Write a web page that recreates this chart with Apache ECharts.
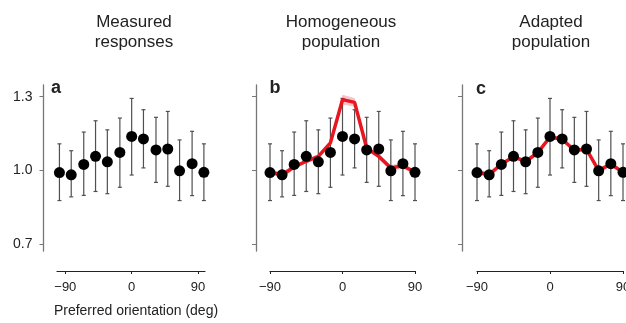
<!DOCTYPE html>
<html>
<head>
<meta charset="utf-8">
<script src="https://cdn.jsdelivr.net/npm/echarts@6/dist/echarts.min.js"></script>
<style>
html, body { margin: 0; padding: 0; background: #fff; }
#main { width: 626px; height: 323px; }
</style>
</head>
<body>
<div id="main"></div>
<script>
// orientations (deg)
var orientMeasured = [-98, -82, -65, -49, -33, -16, 0, 16, 33, 49, 65, 82, 98];
var orient = [-90, -75, -60, -45, -30, -15, 0, 15, 30, 45, 60, 75, 90];

// measured responses, mean and error bar ends
var meanResp = [0.991, 0.982, 1.024, 1.057, 1.035, 1.073, 1.138, 1.128, 1.083, 1.087, 0.998, 1.027, 0.992];
var errLow = [0.877, 0.892, 0.898, 0.914, 0.905, 0.931, 0.981, 1.010, 0.951, 0.935, 0.877, 0.897, 0.877];
var errHigh = [1.108, 1.080, 1.156, 1.202, 1.165, 1.213, 1.293, 1.247, 1.216, 1.240, 1.124, 1.159, 1.108];

// model predictions + half width of the shaded band
var homoFit = [0.992, 0.982, 1.014, 1.037, 1.057, 1.112, 1.288, 1.277, 1.091, 1.057, 1.010, 1.019, 0.992];
var homoSpread = [0.008, 0.012, 0.009, 0.008, 0.008, 0.010, 0.020, 0.018, 0.010, 0.009, 0.012, 0.012, 0.008];
var adaptFit = [0.992, 0.983, 1.025, 1.056, 1.036, 1.072, 1.136, 1.127, 1.082, 1.086, 0.999, 1.026, 0.992];
var adaptSpread = [0.008, 0.012, 0.009, 0.008, 0.009, 0.008, 0.008, 0.008, 0.008, 0.008, 0.010, 0.009, 0.008];

var xTicks = [-90, 0, 90];
var yTicks = [0.7, 1.0, 1.3];

var FONT = '"Liberation Sans", Arial, Helvetica, sans-serif';
var TXT = '#222';

var myChart = echarts.init(document.getElementById('main'), null, { renderer: 'canvas' });

function minusFmt(v) {
  return v < 0 ? '\u2212' + (-v) : String(v);
}

function makeX(idx, min, max) {
  return {
    type: 'value', gridIndex: idx, min: min, max: max, offset: 20,
    axisLine: { show: true, onZero: false, lineStyle: { color: '#222', width: 1.2 } },
    axisTick: { show: true, length: 3, customValues: xTicks, lineStyle: { color: '#222' } },
    axisLabel: { customValues: xTicks, formatter: minusFmt, fontFamily: FONT, fontSize: 13, color: TXT, margin: 10 },
    splitLine: { show: false }
  };
}

function makeY(idx, offset, showLabel) {
  return {
    type: 'value', gridIndex: idx, min: 0.6715, max: 1.3477, offset: offset,
    axisLine: { show: true, onZero: false, lineStyle: { color: '#777', width: 1.3 } },
    axisTick: { show: true, length: 4, customValues: yTicks, lineStyle: { color: '#777' } },
    axisLabel: {
      show: showLabel, customValues: yTicks,
      formatter: function (v) { return v.toFixed(1); },
      fontFamily: FONT, fontSize: 14, color: TXT, margin: 11
    },
    splitLine: { show: false }
  };
}

function errorBars(idx, xs) {
  var data = xs.map(function (x, i) { return [x, errLow[i], errHigh[i]]; });
  return {
    type: 'custom', xAxisIndex: idx, yAxisIndex: idx, data: data, z: 2, silent: true,
    encode: { x: 0, y: [1, 2] },
    renderItem: function (params, api) {
      var x = api.value(0);
      var lo = api.coord([x, api.value(1)]);
      var hi = api.coord([x, api.value(2)]);
      var st = { stroke: '#505050', lineWidth: 1.2 };
      var c = 2;
      return {
        type: 'group',
        children: [
          { type: 'line', shape: { x1: lo[0], y1: lo[1], x2: hi[0], y2: hi[1] }, style: st },
          { type: 'line', shape: { x1: hi[0] - c, y1: hi[1], x2: hi[0] + c, y2: hi[1] }, style: st },
          { type: 'line', shape: { x1: lo[0] - c, y1: lo[1], x2: lo[0] + c, y2: lo[1] }, style: st }
        ]
      };
    }
  };
}

function band(idx, xs, fit, spread) {
  var data = xs.map(function (x, i) { return [x, fit[i] - spread[i], fit[i] + spread[i]]; });
  return {
    type: 'custom', xAxisIndex: idx, yAxisIndex: idx, data: data, z: 1, silent: true,
    encode: { x: 0, y: [1, 2] },
    renderItem: function (params, api) {
      if (params.dataIndex !== 0) return null;
      var up = [], dn = [];
      data.forEach(function (d) {
        up.push(api.coord([d[0], d[2]]));
        dn.push(api.coord([d[0], d[1]]));
      });
      return { type: 'polygon', shape: { points: up.concat(dn.reverse()) }, style: { fill: '#f7c4cb' } };
    }
  };
}

function fitLine(idx, xs, fit) {
  return {
    type: 'line', xAxisIndex: idx, yAxisIndex: idx, z: 3, silent: true,
    data: xs.map(function (x, i) { return [x, fit[i]]; }),
    symbol: 'none', lineStyle: { color: '#e8161e', width: 3.5 }
  };
}

function points(idx, xs) {
  return {
    type: 'scatter', xAxisIndex: idx, yAxisIndex: idx, z: 4, silent: true, clip: false,
    data: xs.map(function (x, i) { return [x, meanResp[i]]; }),
    symbolSize: 11, itemStyle: { color: '#000', opacity: 1 }
  };
}

function label(txt, x, y, size, weight) {
  return {
    type: 'text', x: x, y: y, silent: true,
    style: { text: txt, fill: TXT, font: (weight || 'normal') + ' ' + size + 'px ' + FONT, textAlign: 'center', lineHeight: 20 }
  };
}

var option = {
  animation: false,
  backgroundColor: '#fff',
  grid: [
    { left: 57, top: 85, width: 148, height: 166, outerBoundsMode: 'none', containLabel: false },
    { left: 270, top: 85, width: 145, height: 166, outerBoundsMode: 'none', containLabel: false },
    { left: 477, top: 85, width: 146, height: 166, outerBoundsMode: 'none', containLabel: false }
  ],
  xAxis: [makeX(0, -101.3, 99.5), makeX(1, -90, 90), makeX(2, -90, 90)],
  yAxis: [makeY(0, 13.5, true), makeY(1, 14, false), makeY(2, 15, false)],
  graphic: [
    label('Measured\nresponses', 134, 12, 17),
    label('Homogeneous\npopulation', 341, 12, 17),
    label('Adapted\npopulation', 551, 12, 17),
    label('a', 56, 78, 18, 'bold'),
    label('b', 275, 78, 18, 'bold'),
    label('c', 481, 79, 18, 'bold'),
    {
      type: 'text', x: 136, y: 304, silent: true,
      style: { text: 'Preferred orientation (deg)', fill: TXT, font: '14px ' + FONT, textAlign: 'center' }
    }
  ],
  series: [
    errorBars(0, orientMeasured),
    points(0, orientMeasured),

    band(1, orient, homoFit, homoSpread),
    errorBars(1, orient),
    fitLine(1, orient, homoFit),
    points(1, orient),

    band(2, orient, adaptFit, adaptSpread),
    errorBars(2, orient),
    fitLine(2, orient, adaptFit),
    points(2, orient)
  ]
};

myChart.setOption(option);

window.onresize = () => {
  myChart.resize()
}
</script>
</body>
</html>
